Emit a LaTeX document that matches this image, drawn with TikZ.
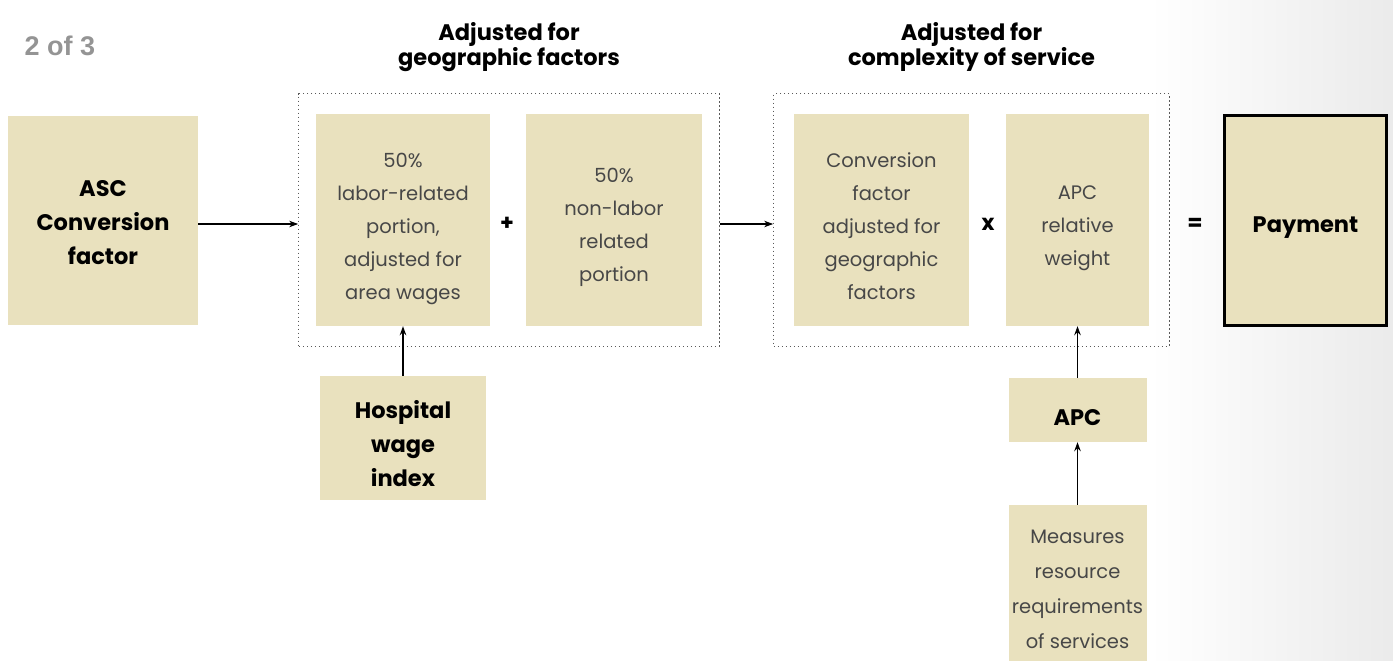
\documentclass[tikz,border=0pt]{standalone}
\usepackage{fontspec}
\setmainfont{Poppins}
\newfontfamily\tagfont{Liberation Sans}
\usepackage{tikz}
\usetikzlibrary{shapes.geometric, arrows.meta, fit, positioning}
\definecolor{boxtan}{RGB}{233,225,190}
\tikzstyle{box} = [rectangle, fill=boxtan]
\tikzstyle{lighttext} = [align=center, yshift=-7pt, text=black!72, font=\fontsize{19.5}{33}\selectfont]
\tikzstyle{boldtext} = [align=center, yshift=-5pt, font=\bfseries\fontsize{22.5}{34}\selectfont]
\tikzstyle{group} = [rectangle, draw=black!65, line width=1.3pt, dash pattern=on 1.3pt off 2.7pt, inner ysep=20pt]
\tikzstyle{heading} = [align=center, inner sep=0pt, font=\bfseries\fontsize{22.5}{24}\selectfont]
\tikzstyle{sign} = [font=\bfseries\fontsize{22}{22}\selectfont]
\tikzstyle{arrow} = [line width=1.3pt,-{Stealth[length=9pt, width=6.5pt]}]

\begin{document}
\begin{tikzpicture}[x=1pt, y=-1pt, node distance=200pt]
\useasboundingbox (0,0) rectangle (1393,661);
\shade [left color=white, right color=black!8] (1150,0) rectangle (1393,661);
\node (tag) [font=\tagfont\bfseries\fontsize{27}{27}\selectfont, text=black!42] at (60,46) {2 of 3};
\node (asc) [box, minimum width=190pt, minimum height=209pt, label={[boldtext, yshift=2pt]center:{ASC\\Conversion\\factor}}] at (103,220) {};
\node (labor) [box, minimum width=174pt, minimum height=212pt, right of=asc, xshift=100pt, label={[lighttext, yshift=-2pt]center:{50\%\\labor-related\\portion,\\adjusted for\\area wages}}] {};
\node (plus) [sign, right of=labor, xshift=-96pt, yshift=-4pt] {+};
\node (nonlab) [box, minimum width=176pt, minimum height=212pt, right of=labor, xshift=11pt, label={[lighttext]center:{50\%\\non-labor\\related\\portion}}] {};
\node (conv) [box, minimum width=175pt, minimum height=212pt, right of=nonlab, xshift=67.5pt, label={[lighttext, yshift=1pt]center:{Conversion\\factor\\adjusted for\\geographic\\factors}}] {};
\node (apcw) [box, minimum width=143pt, minimum height=212pt, right of=conv, xshift=-4pt, label={[lighttext, yshift=-1pt]center:{APC\\relative\\weight}}] {};
\node (times) [sign, right of=conv, xshift=-93.5pt, yshift=-4pt] {x};
\node (pay) [box, draw=black, line width=3pt, minimum width=162pt, minimum height=210pt, right of=apcw, xshift=28pt, label={[boldtext, yshift=-3pt]center:Payment}] {};
\node (equals) [sign, right of=apcw, xshift=-82.5pt, yshift=-4pt] {=};
\node (hwi) [box, minimum width=166pt, minimum height=124pt, below of=labor, yshift=-18pt, label={[boldtext, yshift=-1pt]center:{Hospital\\wage\\index}}] {};
\node (apc) [box, minimum width=138pt, minimum height=64pt, below of=apcw, yshift=10pt, label={[boldtext, yshift=-3pt]center:APC}] {};
\node (meas) [box, minimum width=138pt, minimum height=170pt, below of=apc, yshift=20pt, label={[lighttext, yshift=8pt, font=\fontsize{19.5}{35}\selectfont]center:{Measures\\resource\\requirements\\of services}}] {};
% dotted groups and their titles
\node (geo) [group, fit=(labor)(nonlab), inner xsep=17pt] {};
\node (cx) [group, fit=(conv)(apcw), inner xsep=20pt] {};
\node (geotitle) [heading, above=21pt of geo] {Adjusted for\\geographic factors};
\node (cxtitle) [heading, above=21pt of cx] {Adjusted for\\complexity of service};
\draw [arrow] ([yshift=-4pt]asc.east) -- ([yshift=-4pt]geo.west);
\draw [arrow] ([yshift=-4pt]geo.east) -- ([yshift=-4pt]cx.west);
\draw [arrow] (hwi) -- (labor);
\draw [arrow] (apc) -- (apcw);
\draw [arrow] (meas) -- (apc);
\end{tikzpicture}
\end{document}
